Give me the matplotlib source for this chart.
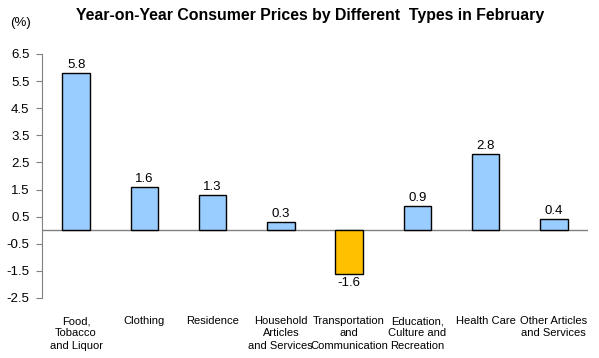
import numpy as np
import matplotlib
matplotlib.use("Agg")
import matplotlib.pyplot as plt

plt.rcParams["font.family"] = ["Liberation Sans", "DejaVu Sans"]

categories = [
    "Food,\nTobacco\nand Liquor",
    "Clothing",
    "Residence",
    "Household\nArticles\nand Services",
    "Transportation\nand\nCommunication",
    "Education,\nCulture and\nRecreation",
    "Health Care",
    "Other Articles\nand Services",
]
values = [5.8, 1.6, 1.3, 0.3, -1.6, 0.9, 2.8, 0.4]
yticks = [6.5, 5.5, 4.5, 3.5, 2.5, 1.5, 0.5, -0.5, -1.5, -2.5]

fig = plt.figure(figsize=(5.99, 3.58), dpi=100)
ax = fig.add_axes([0.0701, 0.1676, 0.9115, 0.6816])

x = np.arange(len(categories))
colors = ["#99CCFF" if v >= 0 else "#FFC000" for v in values]
ax.bar(x, values, width=0.4, color=colors, edgecolor="black", linewidth=1.0, zorder=3)

for xi, v in zip(x, values):
    if v >= 0:
        ax.text(xi, v + 0.08, f"{v:.1f}", ha="center", va="bottom", fontsize=9.5)
    else:
        ax.text(xi, v - 0.12, f"{v:.1f}", ha="center", va="top", fontsize=9.5)

ax.axhline(0, color="#808080", linewidth=1.0, zorder=2)
ax.set_xlim(-0.5, len(categories) - 0.5)
ax.set_ylim(-2.5, 6.5)
ax.set_yticks(yticks)
ax.set_yticklabels([f"{t:.1f}" for t in yticks], fontsize=9.5)
ax.set_xticks(x)
ax.set_xticklabels(categories, fontsize=8, linespacing=1.3)
ax.tick_params(axis="x", length=0, pad=13)
ax.tick_params(axis="y", length=4, color="#808080", pad=5)

for s in ["top", "right", "bottom"]:
    ax.spines[s].set_visible(False)
ax.spines["left"].set_color("#808080")

fig.text(0.518, 0.958, "Year-on-Year Consumer Prices by Different  Types in February",
         ha="center", va="center", fontsize=11.4, fontweight="bold")
fig.text(0.035, 0.935, "(%)", ha="center", va="center", fontsize=9.5)

fig.savefig("out.png", dpi=100)
